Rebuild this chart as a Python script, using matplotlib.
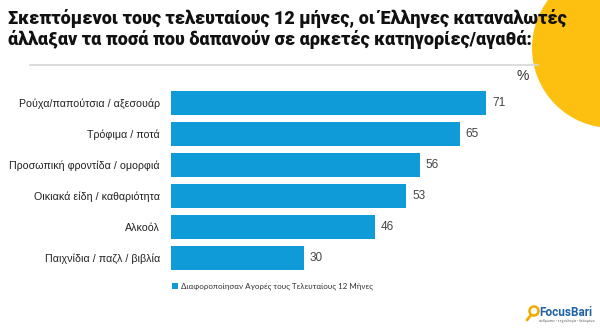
import matplotlib
matplotlib.use("Agg")
import matplotlib.pyplot as plt
from matplotlib.patches import Circle, Rectangle

categories = ["Ρούχα/παπούτσια / αξεσουάρ", "Τρόφιμα / ποτά", "Προσωπική φροντίδα / ομορφιά",
              "Οικιακά είδη / καθαριότητα", "Αλκοόλ", "Παιχνίδια / παζλ / βιβλία"]
values = [71, 65, 56, 53, 46, 30]
title = ("Σκεπτόμενοι τους τελευταίους 12 μήνες, οι Έλληνες καταναλωτές\n"
         "άλλαξαν τα ποσά που δαπανούν σε αρκετές κατηγορίες/αγαθά:")
legend_label = "Διαφοροποίησαν Αγορές τους Τελευταίους 12 Μήνες"

BLUE = "#0f9ad8"
YELLOW = "#fdc010"
W, H = 600, 332

fig = plt.figure(figsize=(6, 3.32), dpi=100)
fig.patch.set_facecolor("white")

# overlay in pixel units for the decorations
deco = fig.add_axes([0, 0, 1, 1], zorder=0)
deco.set_xlim(0, W)
deco.set_ylim(H, 0)
deco.axis("off")
deco.add_patch(Circle((612, 48), 80, facecolor=YELLOW, edgecolor="none", zorder=0))
deco.plot([30, 538], [65, 65], color="#d6d6d6", lw=1.2, zorder=1)
deco.text(8, 29, title, fontsize=13, fontweight="heavy", family="Roboto",
          color="#111111", ha="left", va="center", linespacing=1.12, zorder=3)
deco.text(523, 76, "%", fontsize=10, family="Liberation Sans", color="#333333",
          ha="center", va="center")

# legend
deco.add_patch(Rectangle((172, 283), 6, 6, facecolor=BLUE, edgecolor="none"))
deco.text(181, 286, legend_label, fontsize=5.8, family="Lato", color="#333333",
          ha="left", va="center")

# logo
deco.add_patch(Circle((534, 311), 4.5, facecolor="none", edgecolor="#f2a900", lw=1.8))
deco.plot([531, 527], [315, 320], color="#f2a900", lw=2, solid_capstyle="round")
deco.text(539, 312, "FocusBari", fontsize=8.5, fontweight="bold", family="Roboto",
          color="#1f63a6", ha="left", va="center")
deco.text(539, 321, "άνθρωποι • τεχνολογία • δεδομένα", fontsize=2.5,
          family="Roboto", color="#666666", ha="left", va="center")

ax = fig.add_axes([171 / W, 1 - 273.5 / H, 444 / W, 186 / H], zorder=2)
ax.set_facecolor("none")
y = list(range(len(categories)))
ax.barh(y, values, height=0.8, color=BLUE)
ax.set_xlim(0, 100)
ax.set_ylim(len(categories) - 0.5, -0.5)
ax.set_yticks(y)
ax.set_yticklabels(categories, fontsize=7.7, family="Liberation Sans", color="#222222")
ax.tick_params(axis="y", length=0, pad=8)
ax.set_xticks([])
for s in ax.spines.values():
    s.set_visible(False)
for yi, v in zip(y, values):
    ax.text(v + 1.3, yi, str(v), va="center", ha="left", fontsize=8.5,
            family="Liberation Sans", color="#444444")

fig.savefig("out.png", dpi=100)
